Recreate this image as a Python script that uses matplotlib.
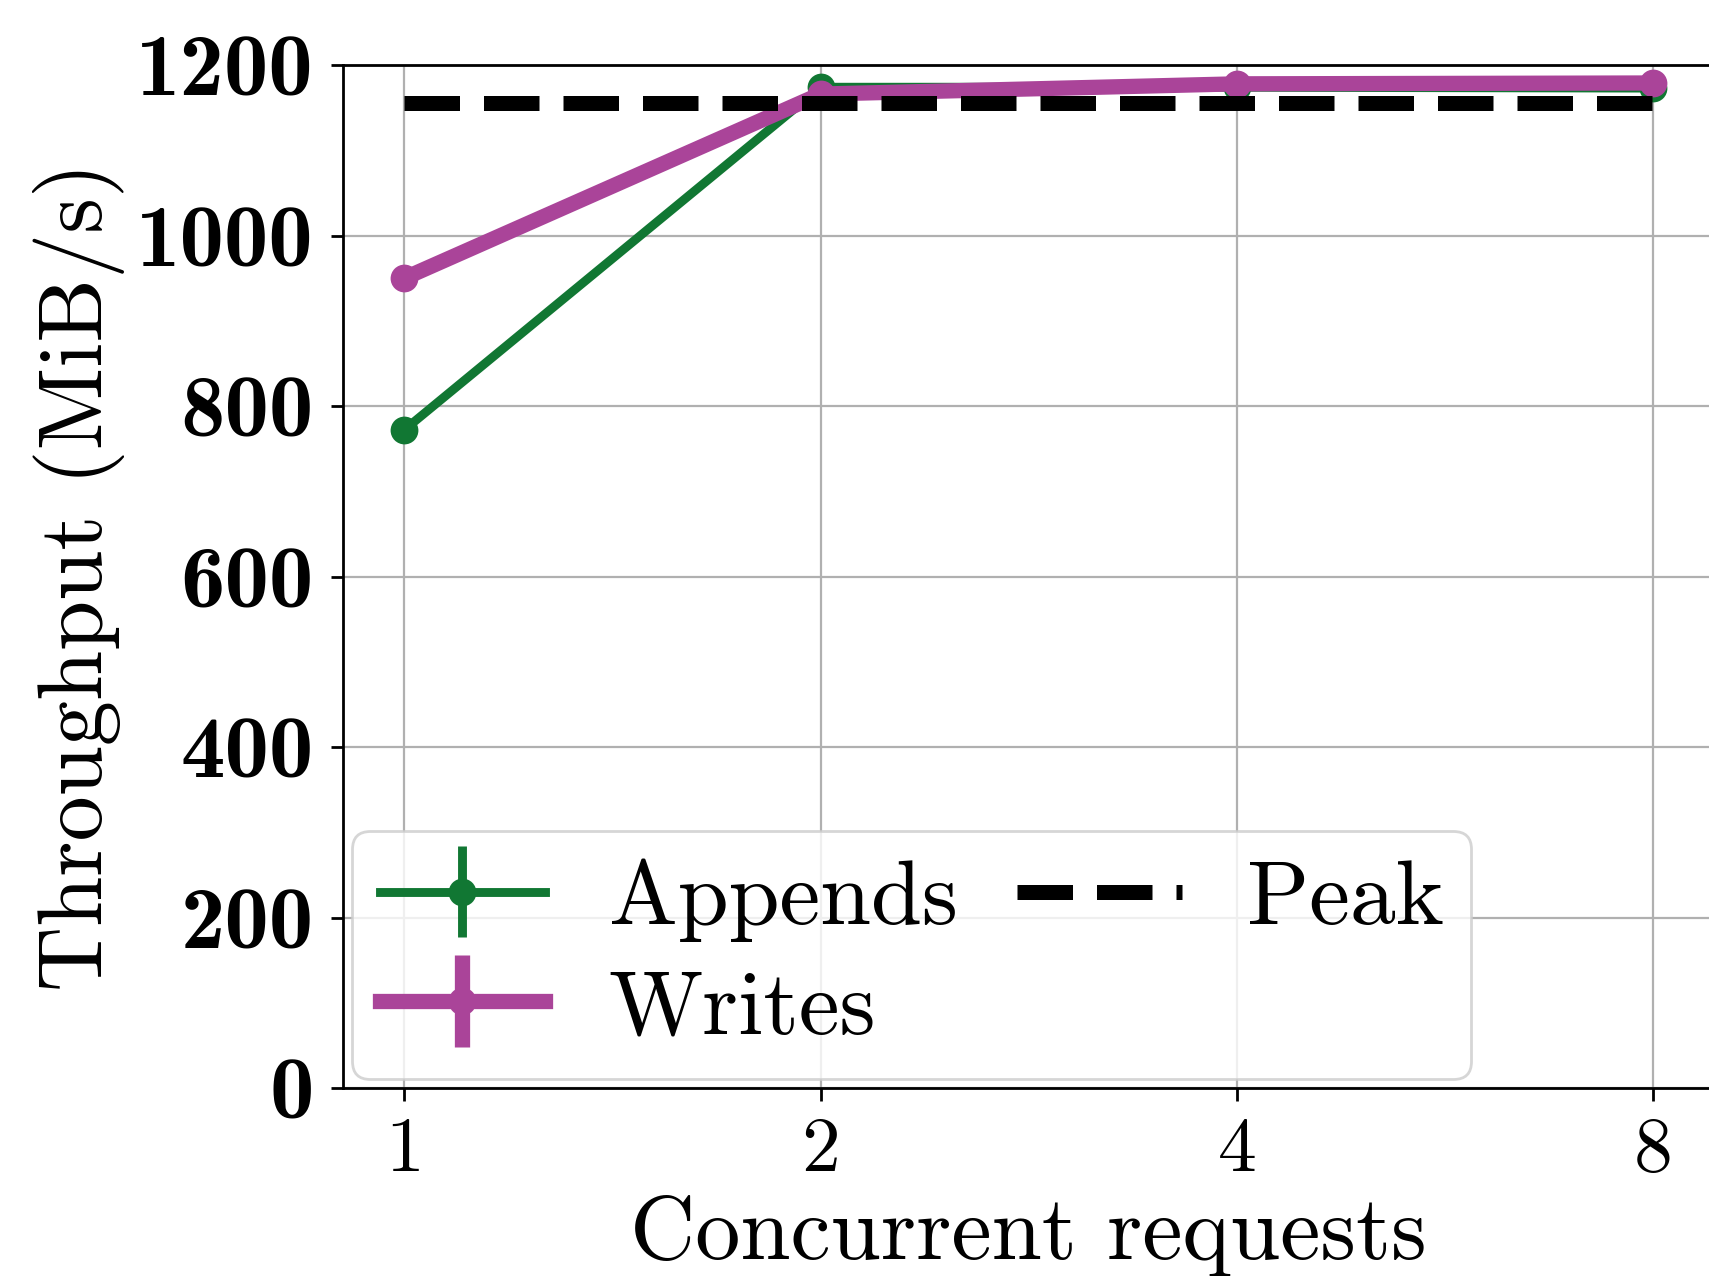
import matplotlib
matplotlib.use("Agg")
import matplotlib.pyplot as plt

# data
requests = ["1", "2", "4", "8"]
appends = [772, 1174, 1174, 1173]
writes = [950, 1166, 1178, 1179]
peak = 1155
yticks = [0, 200, 400, 600, 800, 1000, 1200]

plt.rcParams["font.family"] = "cmr10"
plt.rcParams["axes.formatter.use_mathtext"] = True

green = "#117733"
purple = "#aa4499"

fig = plt.figure(figsize=(8.545, 6.38), dpi=200)
ax = fig.add_axes([0.2007, 0.1473, 0.8026, 0.8017])

x = list(range(len(requests)))
h1 = ax.errorbar(x, appends, yerr=[0] * len(x), color=green, lw=3.2, elinewidth=3.2,
                 marker="o", ms=9, label="Appends", zorder=3)
h2 = ax.errorbar(x, writes, yerr=[0] * len(x), color=purple, lw=5.5, elinewidth=5.5,
                 marker="o", ms=9, label="Writes", zorder=4)
h3, = ax.plot(x, [peak] * len(x), "--", color="black", lw=5.4, label="Peak", zorder=5)

ax.set_xlim(-0.147, 3.147)
ax.set_ylim(0, 1200)
ax.set_xticks(x)
ax.set_xticklabels(requests, fontsize=28)
ax.set_yticks(yticks)
ax.set_yticklabels([str(v) for v in yticks], family="cmb10", fontsize=32)
ax.tick_params(length=4.5, width=1, pad=6)

ax.set_xlabel("Concurrent requests", fontsize=32.5, labelpad=3)
ax.set_ylabel("Throughput (MiB/s)", fontsize=32.5, labelpad=4)

ax.grid(True, color="#b0b0b0", lw=0.8)
ax.set_axisbelow(True)
for s in ax.spines.values():
    s.set_linewidth(1.0)

ax.legend([h1, h2, h3], ["Appends", "Writes", "Peak"], loc="lower left", ncol=2,
          fontsize=33, handlelength=1.8, handletextpad=0.7, columnspacing=0.65,
          borderaxespad=0.1, labelspacing=0.3, borderpad=0.3)

fig.savefig("out.png", dpi=200)
